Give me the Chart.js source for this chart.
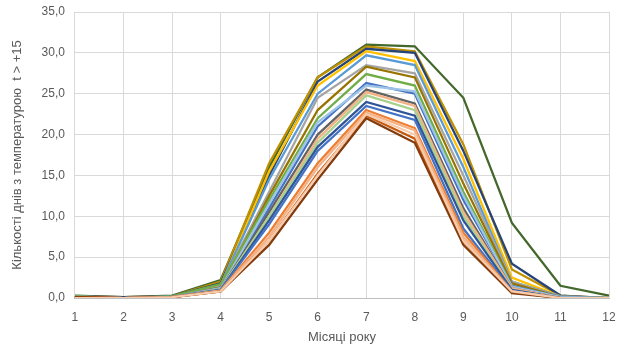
<!DOCTYPE html>
<html>
<head>
<meta charset="utf-8">
<script src="https://cdn.jsdelivr.net/npm/chart.js@4"></script>
<style>
  body { margin: 0; background: #fff; }
  #wrap { width: 619px; height: 350px; }
</style>
</head>
<body>
<div id="wrap"><canvas id="line-chart"></canvas></div>
<script>
// місяці року
const months = ["1", "2", "3", "4", "5", "6", "7", "8", "9", "10", "11", "12"];

// кількість днів з t > +15 по роках (оцінено з графіка)
const s01 = [0.3, 0.1, 0.3, 2.2, 16.0, 27.0, 31.0, 30.8, 24.5, 9.2, 1.5, 0.3];
const s02 = [0.2, 0.1, 0.2, 2.0, 16.5, 27.0, 30.8, 30.2, 18.8, 3.5, 0.3, 0.0];
const s03 = [0.2, 0.1, 0.2, 1.8, 15.0, 26.5, 30.5, 30.0, 18.0, 4.2, 0.3, 0.0];
const s04 = [0.1, 0.0, 0.1, 1.5, 15.5, 26.0, 30.2, 29.0, 17.0, 2.5, 0.2, 0.0];
const s05 = [0.2, 0.0, 0.2, 1.6, 14.5, 25.0, 29.7, 28.5, 16.0, 2.0, 0.2, 0.0];
const s06 = [0.2, 0.0, 0.1, 1.5, 13.0, 24.5, 28.5, 27.5, 15.0, 2.0, 0.1, 0.0];
const s07 = [0.1, 0.0, 0.1, 1.3, 12.5, 23.0, 28.3, 27.0, 14.0, 1.8, 0.1, 0.0];
const s08 = [0.2, 0.0, 0.2, 1.7, 12.0, 22.0, 27.4, 26.0, 13.0, 1.5, 0.1, 0.0];
const s09 = [0.1, 0.0, 0.1, 1.2, 11.0, 21.0, 26.3, 25.0, 12.0, 1.5, 0.1, 0.0];
const s10 = [0.1, 0.0, 0.1, 1.2, 11.5, 21.5, 26.0, 25.3, 12.5, 1.4, 0.1, 0.0];
const s11 = [0.1, 0.0, 0.1, 1.1, 10.5, 20.0, 25.5, 23.8, 11.0, 1.2, 0.0, 0.0];
const s12 = [0.1, 0.0, 0.1, 1.0, 10.0, 19.5, 25.2, 23.5, 10.5, 1.2, 0.0, 0.0];
const s13 = [0.1, 0.0, 0.1, 1.1, 10.0, 19.0, 24.8, 23.0, 10.0, 1.0, 0.0, 0.0];
const s14 = [0.1, 0.0, 0.1, 1.0, 9.5, 18.5, 24.0, 22.3, 9.5, 1.0, 0.0, 0.0];
const s15 = [0.1, 0.0, 0.1, 1.0, 9.0, 18.0, 23.5, 21.8, 8.5, 0.9, 0.0, 0.0];
const s16 = [0.1, 0.0, 0.1, 0.9, 8.0, 16.5, 23.0, 20.8, 8.0, 0.8, 0.0, 0.0];
const s17 = [0.1, 0.0, 0.1, 0.9, 7.5, 16.0, 22.7, 20.5, 7.5, 0.8, 0.0, 0.0];
const s18 = [0.1, 0.0, 0.1, 0.8, 7.0, 15.2, 22.3, 19.5, 7.0, 0.7, 0.0, 0.0];
const s19 = [0.1, 0.0, 0.1, 0.8, 6.5, 14.5, 22.0, 19.0, 6.5, 0.6, 0.0, 0.0];
const s20 = [0.0, 0.0, 0.1, 0.8, 7.0, 15.0, 22.5, 20.0, 7.0, 0.8, 0.0, 0.0];

const series = [s01, s02, s03, s04, s05, s06, s07, s08, s09, s10,
                s11, s12, s13, s14, s15, s16, s17, s18, s19, s20];
const colors = ["#43682B", "#BF9000", "#264478", "#FFC000", "#5B9BD5",
                "#A5A5A5", "#997300", "#70AD47", "#4472C4", "#9DC3E6",
                "#636363", "#F4B183", "#A9D18E", "#2F5597", "#4472C4",
                "#ED7D31", "#F4B183", "#C55A11", "#843C0C", "#F8CBAD"];

const datasets = [];
for (let i = series.length - 1; i >= 0; i--) {
    datasets.push({
        label: "ряд " + (i + 1),
        data: series[i],
        borderColor: colors[i],
        backgroundColor: colors[i],
        borderWidth: 2.25,
        pointRadius: 0,
        tension: 0,
    });
}

const tickFont = { family: "'Liberation Sans', Arial, sans-serif", size: 12 };
const titleFont = { family: "'Liberation Sans', Arial, sans-serif", size: 13 };

// невидимі засічки дають відступ підписів, не зсуваючи область графіка
const config = {
    type: "line",
    data: { labels: months, datasets: datasets },
    options: {
        responsive: false,
        animation: false,
        layout: { padding: { left: 6, right: 10, top: 12, bottom: 1 } },
        plugins: { legend: { display: false }, tooltip: { enabled: false } },
        scales: {
            x: {
                offset: false,
                grid: { color: "#D9D9D9", drawTicks: true, tickLength: 9, tickColor: "rgba(0,0,0,0)" },
                border: { color: "#BFBFBF", width: 1 },
                ticks: { color: "#595959", font: tickFont, padding: 3, maxRotation: 0 },
                title: { display: true, text: "Місяці року", color: "#595959", font: titleFont, padding: { top: 2 } },
            },
            y: {
                min: 0,
                max: 35,
                ticks: {
                    stepSize: 5,
                    color: "#595959",
                    font: tickFont,
                    padding: 3,
                    callback: (v) => v.toFixed(1).replace(".", ","),
                },
                grid: { color: "#D9D9D9", drawTicks: true, tickLength: 7, tickColor: "rgba(0,0,0,0)" },
                border: { display: false },
                title: {
                    display: true,
                    text: "Кількості днів з температурою  t > +15",
                    color: "#595959",
                    font: titleFont,
                    padding: { bottom: 13 },
                },
            },
        },
    },
};

const canvas = document.getElementById("line-chart");
canvas.width = 619;
canvas.height = 350;
const myChart = new Chart(canvas, config);
</script>
</body>
</html>
